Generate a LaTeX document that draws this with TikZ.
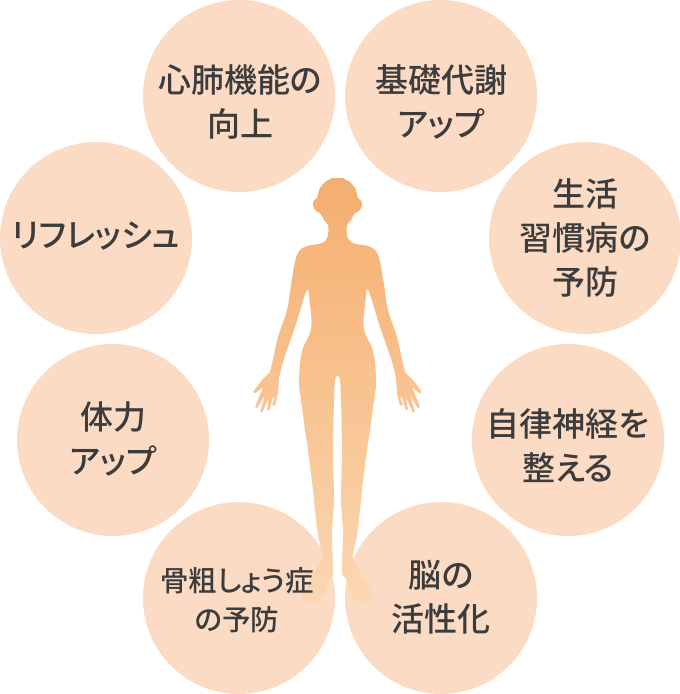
\documentclass[tikz,border=0pt]{standalone}
\usepackage{fontspec}
\setmainfont{Noto Sans CJK JP Medium}[RawFeature=+palt]
\definecolor{circ}{HTML}{FBDBC4}
\definecolor{ink}{HTML}{3C3C3C}
\definecolor{F1}{HTML}{F5AE6E}
\definecolor{F2}{HTML}{FAC893}
\definecolor{F3}{HTML}{FBD7B2}
\tikzset{
 x=1pt,y=-1pt,
 disc/.style={circle,fill=circ,minimum size=192pt,inner sep=0pt,outer sep=0pt},
 lab/.style={align=center,text=ink,font=\fontsize{33}{44}\selectfont,inner sep=0pt},
 smalllab/.style={align=center,text=ink,font=\fontsize{28.5}{39}\selectfont,inner sep=0pt},
 bodyfill/.style={top color=F1,middle color=F2,bottom color=F3,shading angle=0},
}
\newcommand{\halfbody}{
 plot[smooth,tension=0.6] coordinates {(331,178.8)(337.5,178)(344,178.8)(350.5,182.5)(355.5,189)(358,198)(361,200.5)(362,205.5)(359,211)(355,213)(351,220)(347,225)(347,235)(350,241)(356,244)(368,246)(376,251)(380,262)(384,285)(388,310)(397,337)(401,355)(405,372)}
 [rounded corners=1pt] -- (413,380) -- (422,392) -- (420,393.5) -- (412,387) -- (420,407) -- (418,408.5) -- (410,395) -- (415,412) -- (413,413) -- (406,397) -- (408,410) -- (406,411) -- (402,397) -- (400,397) -- (403,405) -- (400,406) -- (397,393) -- (396,378)
 -- plot[smooth,tension=0.45] coordinates {(396,378)(392,362)(387,347)(380,327)(368,290)(365,305)(363.5,322)(365,333)(372,348)(375,362)(376,385)(374,400)(370,430)(367,450)(362,490)(360,510)(357,535)(353,558)(360,572)(372,594)(371,600)(362,603)(355,600)(350,592)(346,579)(342,572)(343,533)(341,500)(342,450)(341,400)(340,380)(338,376)(336,376)}
 -- cycle}
\begin{document}
\begin{tikzpicture}
\useasboundingbox (0,0) rectangle (680,694);
\node[disc] (a) at (239,96) {};
\node[disc] (b) at (441,96) {};
\node[disc] (c) at (585,238) {};
\node[disc] (d) at (568,440) {};
\node[disc] (e) at (441,598) {};
\node[disc] (f) at (239,598) {};
\node[disc] (g) at (113,440) {};
\node[disc] (h) at (96,238) {};
\shade[bodyfill] \halfbody;
\begin{scope}[xshift=675pt,xscale=-1]
\shade[bodyfill] \halfbody;
\end{scope}
\node[lab] (ta) at (240,102) {心肺機能の\\向上};
\node[lab] (tb) at (441,102) {基礎代謝\\アップ};
\node[lab] (tc) at (585,238) {生活\\習慣病の\\予防};
\node[lab] (td) at (568,445.5) {自律神経を\\整える};
\node[lab] (te) at (441,597) {脳の\\活性化};
\node[smalllab] (tf) at (237,600.5) {骨粗しょう症\\の予防};
\node[lab] (tg) at (113,439) {体力\\アップ};
\node[lab] (th) at (96,236) {リフレッシュ};
\end{tikzpicture}
\end{document}
